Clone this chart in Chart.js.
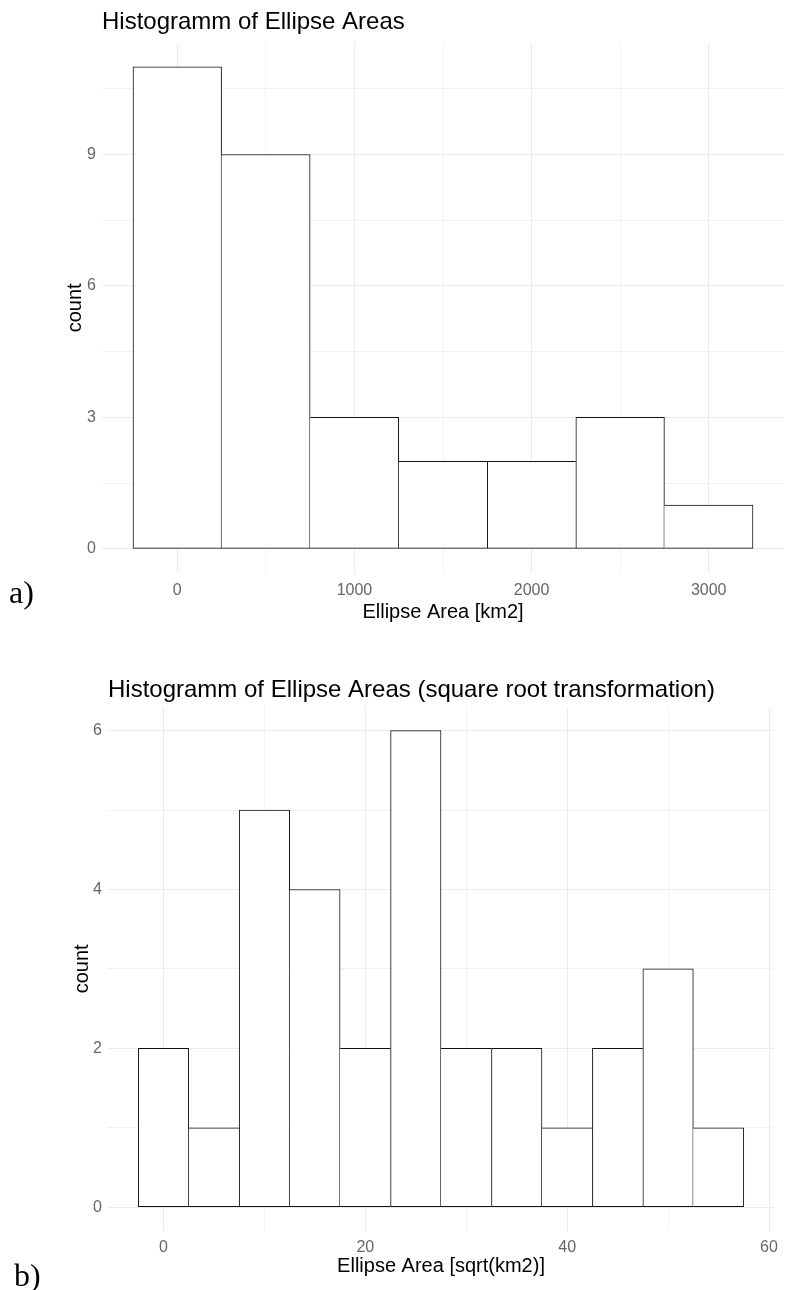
<!DOCTYPE html>
<html>
<head>
<meta charset="utf-8">
<script src="https://cdn.jsdelivr.net/npm/chart.js@4"></script>
<style>
  body { margin: 0; background: #fff; width: 785px; height: 1290px; position: relative; overflow: hidden; }
  canvas { position: absolute; left: 0; }
  .tag { position: absolute; font-family: "Liberation Serif", "DejaVu Serif", serif; font-size: 32px; color: #000; line-height: 1; }
</style>
</head>
<body>
<canvas id="histA" width="785" height="628" style="top:0"></canvas>
<canvas id="histB" width="785" height="640" style="top:650px"></canvas>
<div class="tag" style="left:9px; top:576px">a)</div>
<div class="tag" style="left:14px; top:1259px">b)</div>
<script>
// --- a) raw ellipse areas, bins of width 500 ---
const binCentersA = [0, 500, 1000, 1500, 2000, 2500, 3000];
const countsA = [11, 9, 3, 2, 2, 3, 1];
const xMajorA = [0, 1000, 2000, 3000];
const xMinorA = [500, 1500, 2500];
const yMajorA = [0, 3, 6, 9];
const yMinorA = [1.5, 4.5, 7.5, 10.5];

// --- b) square root transformed, bins of width 5 ---
const binCentersB = [0, 5, 10, 15, 20, 25, 30, 35, 40, 45, 50, 55];
const countsB = [2, 1, 5, 4, 2, 6, 2, 2, 1, 2, 3, 1];
const xMajorB = [0, 20, 40, 60];
const xMinorB = [10, 30, 50];
const yMajorB = [0, 2, 4, 6];
const yMinorB = [1, 3, 5];

const FONT = '"Liberation Sans", Arial, sans-serif';

function makeHist(canvasId, cfg) {
    const counts = cfg.counts;
    const xTicks = cfg.xMajor.concat(cfg.xMinor).sort((a, b) => a - b);
    const yTicks = cfg.yMajor.concat(cfg.yMinor).sort((a, b) => a - b);
    const gridColor = majors => ctx => majors.includes(ctx.tick.value) ? '#ebebeb' : '#f2f2f2';

    // shared edges are drawn once, by the taller of the two bars
    const edges = ctx => {
        const i = ctx.dataIndex;
        const cur = counts[i];
        const prev = counts[i - 1];
        const next = counts[i + 1];
        return {
            top: 1,
            bottom: 1,
            left: (prev === undefined || prev <= cur) ? 1 : 0,
            right: (next === undefined || next < cur) ? 1 : 0
        };
    };

    return new Chart(document.getElementById(canvasId), {
        type: 'bar',
        data: {
            datasets: [{
                data: cfg.centers.map((x, i) => ({ x: x, y: counts[i] })),
                backgroundColor: '#ffffff',
                borderColor: '#111111',
                borderSkipped: false,
                borderWidth: edges,
                barPercentage: 1,
                categoryPercentage: 1
            }]
        },
        options: {
            responsive: false,
            animation: false,
            layout: { padding: { left: 0, right: cfg.padRight, top: 0, bottom: 0 } },
            plugins: {
                legend: { display: false },
                tooltip: { enabled: false },
                title: {
                    display: true,
                    text: cfg.title,
                    align: 'start',
                    fullSize: false,
                    color: '#000',
                    font: { family: FONT, size: 24, weight: 'normal', lineHeight: 1.2 },
                    padding: cfg.titlePad
                }
            },
            scales: {
                x: {
                    type: 'linear',
                    min: cfg.xMin,
                    max: cfg.xMax,
                    offset: false,
                    border: { display: false },
                    grid: { offset: false, drawTicks: false, color: gridColor(cfg.xMajor), lineWidth: 1 },
                    afterBuildTicks: s => { s.ticks = xTicks.map(v => ({ value: v })); },
                    afterFit: s => { s.height = cfg.xAxisHeight; },
                    ticks: {
                        autoSkip: false,
                        maxRotation: 0,
                        padding: cfg.xTickPad,
                        color: '#666',
                        font: { family: FONT, size: 16 },
                        callback: v => cfg.xMajor.includes(v) ? String(v) : ''
                    },
                    title: {
                        display: true,
                        text: cfg.xTitle,
                        color: '#000',
                        font: { family: FONT, size: 20, lineHeight: 1.2 },
                        padding: { top: 0, bottom: cfg.xTitlePad }
                    }
                },
                y: {
                    min: cfg.yMin,
                    max: cfg.yMax,
                    border: { display: false },
                    grid: { drawTicks: false, color: gridColor(cfg.yMajor), lineWidth: 1 },
                    afterBuildTicks: s => { s.ticks = yTicks.map(v => ({ value: v })); },
                    afterFit: s => { s.width = cfg.yAxisWidth; },
                    ticks: {
                        autoSkip: false,
                        padding: cfg.yTickPad,
                        color: '#666',
                        font: { family: FONT, size: 16 },
                        callback: v => cfg.yMajor.includes(v) ? String(v) : ''
                    },
                    title: {
                        display: true,
                        text: 'count',
                        color: '#000',
                        font: { family: FONT, size: 20, lineHeight: 1.2 },
                        padding: { top: cfg.yTitlePad, bottom: 0 }
                    }
                }
            }
        }
    });
}

makeHist('histA', {
    centers: binCentersA, counts: countsA,
    xMajor: xMajorA, xMinor: xMinorA, yMajor: yMajorA, yMinor: yMinorA,
    xMin: -425, xMax: 3425, yMin: -0.55, yMax: 11.55,
    title: 'Histogramm of Ellipse Areas',
    xTitle: 'Ellipse Area [km2]',
    titlePad: { top: 8, bottom: 6 },
    padRight: 1, yAxisWidth: 102, xAxisHeight: 55,
    xTickPad: 8, yTickPad: 6, xTitlePad: 4, yTitlePad: 63
});

makeHist('histB', {
    centers: binCentersB, counts: countsB,
    xMajor: xMajorB, xMinor: xMinorB, yMajor: yMajorB, yMinor: yMinorB,
    xMin: -5.5, xMax: 60.5, yMin: -0.3, yMax: 6.3,
    title: 'Histogramm of Ellipse Areas (square root transformation)',
    xTitle: 'Ellipse Area [sqrt(km2)]',
    titlePad: { top: 26, bottom: 2 },
    padRight: 7, yAxisWidth: 108, xAxisHeight: 59,
    xTickPad: 7, yTickPad: 6, xTitlePad: 12, yTitlePad: 70
});
</script>
</body>
</html>
